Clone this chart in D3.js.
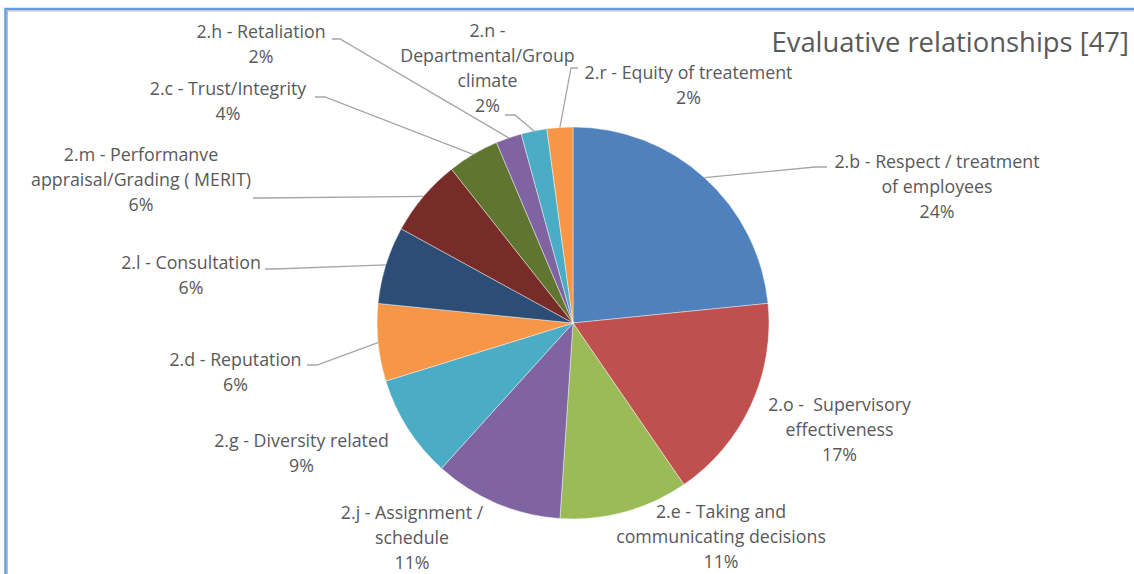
<!DOCTYPE html>
<html><head><meta charset="utf-8">
<script src="https://cdn.jsdelivr.net/npm/d3@7"></script>
<style>body{margin:0;background:#fff}svg{display:block}</style>
</head><body><svg id="c" width="1134" height="574"></svg>
<script>
// ---- data ----
const titleText = "Evaluative relationships [47]";
const categories = ["2.b", "2.o", "2.e", "2.j", "2.g", "2.d", "2.l", "2.m", "2.c", "2.h", "2.n", "2.r"];
const labelLines = [
  ["2.b - Respect / treatment", "of employees"],
  ["2.o -  Supervisory", "effectiveness"],
  ["2.e - Taking and", "communicating decisions"],
  ["2.j - Assignment /", "schedule"],
  ["2.g - Diversity related"],
  ["2.d - Reputation"],
  ["2.l - Consultation"],
  ["2.m - Performanve", "appraisal/Grading ( MERIT)"],
  ["2.c - Trust/Integrity"],
  ["2.h - Retaliation"],
  ["2.n -", "Departmental/Group", "climate"],
  ["2.r - Equity of treatement"]
];
const counts = [11, 8, 5, 5, 4, 3, 3, 3, 2, 1, 1, 1];
const percentLabels = ["24%", "17%", "11%", "11%", "9%", "6%", "6%", "6%", "4%", "2%", "2%", "2%"];
const colors = ["#4F81BD", "#C0504D", "#9BBB59", "#8064A2", "#4BACC6", "#F79646",
                "#2C4D75", "#772C2A", "#5F7530", "#8064A2", "#4BACC6", "#F79646"];

// ---- layout (positions only) ----
const cx = 573, cy = 323, R = 196;
const labelLayout = [
  {x: 937,   y: 162, leader: {x: 827, y: 167, stub: 815}},
  {x: 839.5, y: 405},
  {x: 721,   y: 512},
  {x: 412,   y: 513},
  {x: 301.5, y: 441},
  {x: 235.5, y: 360, leader: {x: 307, y: 365, stub: 317}},
  {x: 191,   y: 263, leader: {x: 265, y: 269, stub: 275}},
  {x: 141,   y: 155, leader: {x: 253, y: 198, stub: 263}},
  {x: 228,   y: 89,  leader: {x: 315, y: 97,  stub: 325}},
  {x: 261,   y: 32,  leader: {x: 332, y: 39,  stub: 340}},
  {x: 487.5, y: 31,  leader: {x: 505, y: 115, stub: 515}},
  {x: 688.5, y: 73,  leader: {x: 578, y: 68,  stub: 571}}
];
const lineGap = 24.7;
const fontFam = "'Open Sans', Lato, sans-serif";

const svg = d3.select("#c");
svg.append("rect").attr("width", 1134).attr("height", 574).attr("fill", "#fff");

// frame
svg.append("path").attr("d", "M5.5,580 V9 H1140").attr("fill", "none")
  .attr("stroke", "#6A9BD8").attr("stroke-width", 2.5);
svg.append("path").attr("d", "M7.5,580 V11 H1140").attr("fill", "none")
  .attr("stroke", "#8C8C8C").attr("stroke-width", 1).attr("opacity", 0.6);

const data = categories.map((c, i) => ({cat: c, value: counts[i], i}));
const pie = d3.pie().value(d => d.value).sort(null);
const arcs = pie(data);
const arc = d3.arc().innerRadius(0).outerRadius(R);

const g = svg.append("g").attr("transform", `translate(${cx},${cy})`);
g.selectAll("path.slice").data(arcs).join("path")
  .attr("class", "slice")
  .attr("d", arc)
  .attr("fill", d => colors[d.data.i])
  .attr("stroke", "#ffffff").attr("stroke-width", 0.6).attr("stroke-opacity", 0.7);

// leader lines
arcs.forEach(a => {
  const L = labelLayout[a.data.i].leader;
  if (!L) return;
  const mid = (a.startAngle + a.endAngle) / 2;
  const ex = cx + R * Math.sin(mid), ey = cy - R * Math.cos(mid);
  svg.append("polyline")
    .attr("points", `${L.x},${L.y} ${L.stub},${L.y} ${ex},${ey}`)
    .attr("fill", "none").attr("stroke", "#A6A6A6").attr("stroke-width", 1.3);
});

// labels
arcs.forEach(a => {
  const i = a.data.i, p = labelLayout[i];
  const lines = labelLines[i].concat([percentLabels[i]]);
  const t = svg.append("text")
    .attr("text-anchor", "middle")
    .attr("font-family", fontFam)
    .attr("font-size", 17.8)
    .attr("fill", "#595959");
  lines.forEach((ln, k) => {
    t.append("tspan").attr("x", p.x).attr("y", p.y + k * lineGap).attr("dy", "0.36em")
      .attr("xml:space", "preserve").style("white-space", "pre").text(ln);
  });
});

svg.append("text").attr("x", 1129).attr("y", 52).attr("text-anchor", "end")
  .attr("font-family", fontFam).attr("font-size", 27.4)
  .attr("fill", "#595959").text(titleText);
</script></body></html>
